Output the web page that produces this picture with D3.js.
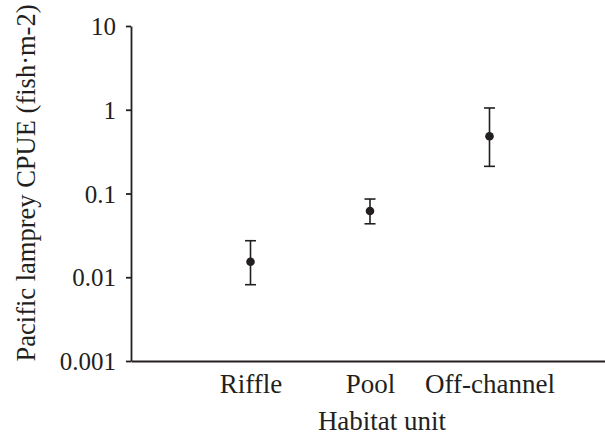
<!DOCTYPE html>
<html>
<head>
<meta charset="utf-8">
<script src="https://d3js.org/d3.v7.min.js"></script>
<style>
  body { margin: 0; background: #fff; }
  svg { display: block; }
  svg text { font-family: "Liberation Serif", "Times New Roman", serif; }
</style>
</head>
<body>
<div id="chart"></div>
<script>
  // habitat units and CPUE (fish per m2)
  const categories = ["Riffle", "Pool", "Off-channel"];
  const means = [0.0153, 0.0618, 0.482];
  const lower = [0.00815, 0.0435, 0.211];
  const upper = [0.0273, 0.0859, 1.05];
  const yTicks = [0.001, 0.01, 0.1, 1, 10];
  const yTickLabels = ["0.001", "0.01", "0.1", "1", "10"];

  const w = 605;
  const h = 435;
  const ink = "#231f20";
  const serif = '"Liberation Serif", "Times New Roman", serif';

  const x = d3.scalePoint()
              .domain(categories)
              .range([131, 609])
              .padding(1);

  const y = d3.scaleLog()
              .domain([0.001, 10])
              .range([361, 26]);

  const svg = d3.select("#chart").append("svg")
                .attr("width", w)
                .attr("height", h);

  // y axis
  const yAxis = d3.axisLeft(y)
                  .tickValues(yTicks)
                  .tickFormat((d, i) => yTickLabels[i])
                  .tickSizeInner(5)
                  .tickSizeOuter(0)
                  .tickPadding(10);

  const gy = svg.append("g")
     .attr("transform", "translate(131,0)")
     .call(yAxis)
     .attr("font-family", serif);
  gy.selectAll("path, line").attr("stroke", ink).attr("stroke-width", 1.8);
  gy.selectAll("text").attr("fill", ink).style("font-size", "25px").attr("dy", "0.34em");

  // x axis
  const xAxis = d3.axisBottom(x).tickSize(0).tickSizeOuter(0).tickPadding(13);
  const gx = svg.append("g")
     .attr("transform", "translate(0,361)")
     .call(xAxis)
     .attr("font-family", serif);
  gx.selectAll("path").attr("stroke", ink).attr("stroke-width", 1.8);
  gx.selectAll("text").attr("fill", ink).style("font-size", "27px");

  // axis titles
  svg.append("text")
     .attr("x", 382)
     .attr("y", 430)
     .attr("text-anchor", "middle")
     .attr("fill", ink)
     .style("font-size", "27px")
     .text("Habitat unit");

  svg.append("text")
     .attr("transform", "translate(35,183) rotate(-90)")
     .attr("text-anchor", "middle")
     .attr("fill", ink)
     .style("font-size", "26.5px")
     .text("Pacific lamprey CPUE (fish\u00b7m-2)");

  // error bars
  const bars = svg.append("g").selectAll("g")
     .data(categories)
     .enter()
     .append("g")
     .attr("stroke", ink)
     .attr("stroke-width", 1.6);

  bars.append("line")
      .attr("x1", d => x(d)).attr("x2", d => x(d))
      .attr("y1", (d, i) => y(lower[i]))
      .attr("y2", (d, i) => y(upper[i]));
  bars.append("line")
      .attr("x1", d => x(d) - 5.5).attr("x2", d => x(d) + 5.5)
      .attr("y1", (d, i) => y(upper[i]))
      .attr("y2", (d, i) => y(upper[i]));
  bars.append("line")
      .attr("x1", d => x(d) - 5.5).attr("x2", d => x(d) + 5.5)
      .attr("y1", (d, i) => y(lower[i]))
      .attr("y2", (d, i) => y(lower[i]));

  svg.append("g").selectAll("circle")
     .data(categories)
     .enter()
     .append("circle")
     .attr("cx", d => x(d))
     .attr("cy", (d, i) => y(means[i]))
     .attr("r", 4.3)
     .attr("fill", ink);
</script>
</body>
</html>
